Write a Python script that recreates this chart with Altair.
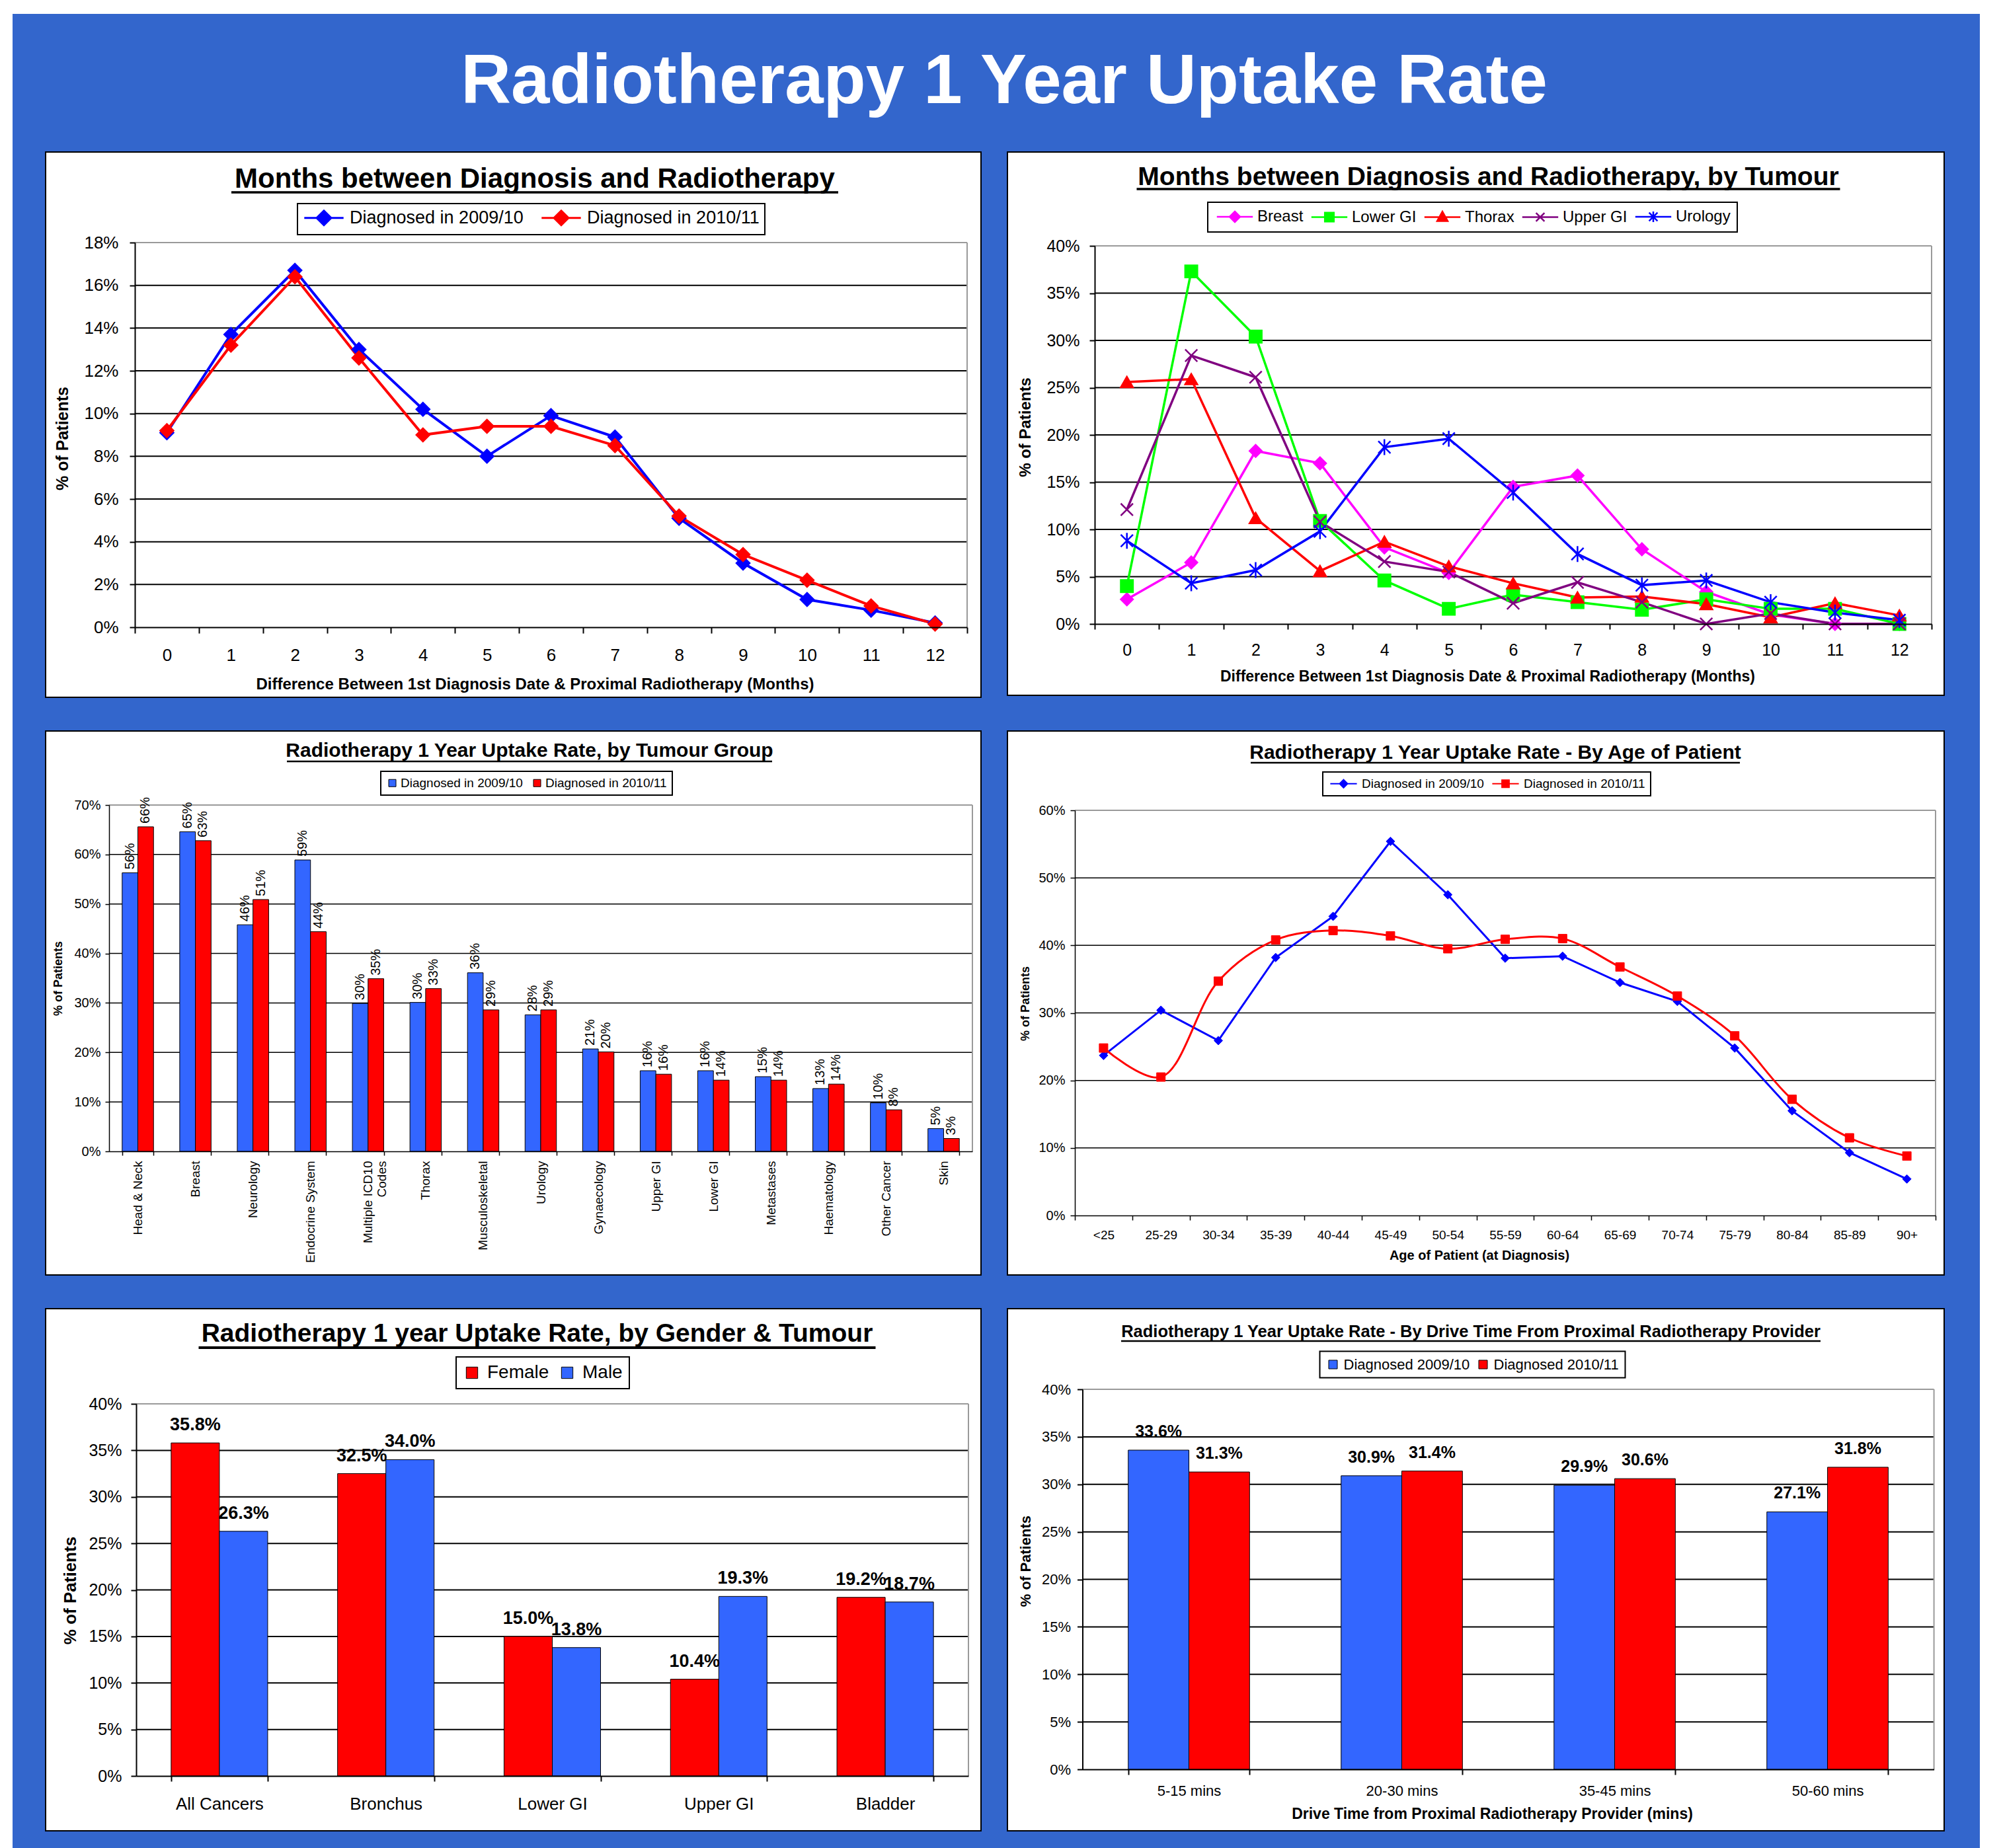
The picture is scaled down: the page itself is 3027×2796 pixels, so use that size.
import altair as alt
import pandas as pd

FONT = "Liberation Sans"
PAGE_BLUE = "#3366CC"
BAR_BLUE = "#3366FF"
RED = "#FF0000"
LINE_BLUE = "#0000FF"

# ---------------- data ----------------
months = list(range(13))
tl_series = ["Diagnosed in 2009/10", "Diagnosed in 2010/11"]
tl_2009 = [9.1, 13.7, 16.7, 13.0, 10.2, 8.0, 9.9, 8.9, 5.1, 3.0, 1.3, 0.8, 0.2]
tl_2010 = [9.2, 13.2, 16.4, 12.6, 9.0, 9.4, 9.4, 8.5, 5.2, 3.4, 2.2, 1.0, 0.15]
tl_yticks = [0, 2, 4, 6, 8, 10, 12, 14, 16, 18]

tr_series = ["Breast", "Lower GI", "Thorax", "Upper GI", "Urology"]
tr_breast = [2.6, 6.5, 18.3, 17.0, 8.1, 5.4, 14.5, 15.7, 7.9, 3.4, 1.0, 0.0, 0.0]
tr_lowergi = [4.0, 37.3, 30.4, 10.9, 4.6, 1.6, 3.1, 2.3, 1.5, 2.6, 1.6, 1.6, 0.0]
tr_thorax = [25.6, 25.9, 11.2, 5.6, 8.7, 6.1, 4.3, 2.8, 2.9, 2.1, 0.7, 2.2, 0.9]
tr_uppergi = [12.1, 28.4, 26.1, 10.8, 6.6, 5.5, 2.2, 4.4, 2.3, 0.0, 1.1, 0.0, 0.0]
tr_urology = [8.8, 4.3, 5.7, 9.8, 18.7, 19.6, 13.9, 7.4, 4.1, 4.6, 2.3, 1.2, 0.4]
tr_yticks = [0, 5, 10, 15, 20, 25, 30, 35, 40]

ml_groups = ["Head & Neck", "Breast", "Neurology", "Endocrine System", "Multiple ICD10 Codes",
             "Thorax", "Musculoskeletal", "Urology", "Gynaecology", "Upper GI", "Lower GI",
             "Metastases", "Haematology", "Other Cancer", "Skin"]
ml_series = ["Diagnosed in 2009/10", "Diagnosed in 2010/11"]
ml_2009 = [56.3, 64.6, 45.8, 58.9, 29.9, 30.1, 36.1, 27.6, 20.7, 16.3, 16.3, 15.1, 12.7, 9.8, 4.6]
ml_2010 = [65.6, 62.8, 50.9, 44.4, 34.9, 32.9, 28.6, 28.6, 20.1, 15.6, 14.4, 14.4, 13.6, 8.4, 2.6]
ml_yticks = [0, 10, 20, 30, 40, 50, 60, 70]

ages = ["<25", "25-29", "30-34", "35-39", "40-44", "45-49", "50-54", "55-59", "60-64",
        "65-69", "70-74", "75-79", "80-84", "85-89", "90+"]
mr_series = ["Diagnosed in 2009/10", "Diagnosed in 2010/11"]
mr_2009 = [23.7, 30.4, 25.9, 38.2, 44.3, 55.4, 47.5, 38.1, 38.4, 34.5, 31.7, 24.8, 15.5, 9.3, 5.4]
mr_2010 = [24.8, 20.5, 34.7, 40.8, 42.2, 41.4, 39.5, 40.9, 41.0, 36.8, 32.5, 26.6, 17.2, 11.5, 8.8]
mr_yticks = [0, 10, 20, 30, 40, 50, 60]

bl_groups = ["All Cancers", "Bronchus", "Lower GI", "Upper GI", "Bladder"]
bl_series = ["Female", "Male"]
bl_female = [35.8, 32.5, 15.0, 10.4, 19.2]
bl_male = [26.3, 34.0, 13.8, 19.3, 18.7]
bl_yticks = [0, 5, 10, 15, 20, 25, 30, 35, 40]

br_groups = ["5-15 mins", "20-30 mins", "35-45 mins", "50-60 mins"]
br_series = ["Diagnosed 2009/10", "Diagnosed 2010/11"]
br_2009 = [33.6, 30.9, 29.9, 27.1]
br_2010 = [31.3, 31.4, 30.6, 31.8]
br_yticks = [0, 5, 10, 15, 20, 25, 30, 35, 40]

ONE = pd.DataFrame({"k": [0]})


def long_df(cats, series, arrays):
    rows = []
    for s, arr in zip(series, arrays):
        for c, v in zip(cats, arr):
            rows.append({"c": c, "s": s, "v": v})
    return pd.DataFrame(rows)


def panel_rect(g):
    return alt.Chart(ONE).mark_rect(fill="white", stroke="black", strokeWidth=2).encode(
        x=alt.value(0), x2=alt.value(g["W"]), y=alt.value(0), y2=alt.value(g["H"]))


def frame(g, yticks, grid_w, yenc_factory):
    inner = pd.DataFrame({"v": yticks[1:-1]})
    top = pd.DataFrame({"v": [yticks[-1]]})
    grid = alt.Chart(inner).mark_rule(color="black", strokeWidth=grid_w).encode(
        y=yenc_factory(), x=alt.value(g["L"]), x2=alt.value(g["R"]))
    topl = alt.Chart(top).mark_rule(color="#9a9a9a", strokeWidth=2).encode(
        y=yenc_factory(), x=alt.value(g["L"]), x2=alt.value(g["R"]))
    right = alt.Chart(ONE).mark_rule(color="#9a9a9a", strokeWidth=2).encode(
        x=alt.value(g["R"]), y=alt.value(g["T"]), y2=alt.value(g["B"]))
    return [grid, topl, right]


def title_layers(text, size, cx, base, hw, uy, uw):
    t = alt.Chart(ONE).mark_text(text=text, font=FONT, fontSize=size, fontWeight="bold",
                                 color="black", align="center", baseline="alphabetic").encode(
        x=alt.value(cx), y=alt.value(base))
    u = alt.Chart(ONE).mark_rule(color="black", strokeWidth=uw).encode(
        x=alt.value(cx - hw), x2=alt.value(cx + hw), y=alt.value(uy))
    return [t, u]


def yaxis(g, ticks, lsize, tick, pad, tsize, tx, ty, w=2):
    return alt.Axis(values=ticks, labelExpr="datum.value + '%'", orient="left", offset=-g["L"],
                    title="% of Patients", titleX=tx - g["L"], titleY=ty, titleAngle=270,
                    titleAlign="center", titleBaseline="middle", titleFont=FONT, titleFontSize=tsize,
                    titleFontWeight="bold", titleColor="black",
                    labelFont=FONT, labelFontSize=lsize, labelColor="black", labelPadding=pad,
                    labelOverlap=False, tickSize=tick, tickColor="black", tickWidth=w,
                    domainColor="black", domainWidth=w, grid=False, zindex=1)


def xaxis(g, lsize, tick, pad, title=None, tsize=20, tcx=0, tbase=0, w=2, angle=0, **kw):
    d = dict(orient="bottom", offset=g["B"] - g["H"], tickBand="extent", labelAngle=angle,
             labelFont=FONT, labelFontSize=lsize, labelColor="black", labelPadding=pad,
             labelOverlap=False, labelLimit=0, labelFlush=False, tickSize=tick, tickColor="black",
             tickWidth=w, domainColor="black", domainWidth=w, grid=False, zindex=1)
    if title:
        d.update(title=title, titleX=tcx, titleY=tbase - g["B"], titleAlign="center",
                 titleBaseline="alphabetic", titleFont=FONT, titleFontSize=tsize,
                 titleFontWeight="bold", titleColor="black", titleAngle=0)
    else:
        d.update(title=None)
    d.update(kw)
    return alt.Axis(**d)


def line_legend(lx, ly, fs, s, so, lo, cp, pad, sw):
    return alt.Legend(orient="none", legendX=lx, legendY=ly, direction="horizontal",
                      columns=5, title=None, labelFont=FONT, labelFontSize=fs,
                      labelColor="black", labelLimit=0, labelOffset=lo, symbolSize=s * s,
                      symbolOffset=so, symbolStrokeWidth=sw, symbolOpacity=1,
                      columnPadding=cp, padding=pad, fillColor="white", strokeColor="black",
                      zindex=1)


def bar_legend(lx, ly, fs, ss, lo, cp, pad):
    return alt.Legend(orient="none", legendX=lx, legendY=ly, direction="horizontal",
                      columns=2, title=None, labelFont=FONT, labelFontSize=fs,
                      labelColor="black", labelLimit=0, labelOffset=lo, symbolType="square",
                      symbolSize=ss, symbolStrokeColor="black", symbolStrokeWidth=1,
                      symbolOpacity=1, columnPadding=cp, padding=pad, fillColor="white",
                      strokeColor="black", zindex=1)


def line_panel(g, cats, series, arrays, colors, shapes, legend_paths, interps, lw, psize, psw,
               yticks, grid_w, yax, xax, legend, titles, extra_front=(), extra_back=()):
    df = long_df(cats, series, arrays)
    xenc = alt.X("c:O", sort=cats,
                 scale=alt.Scale(type="band", domain=cats, range=[g["L"], g["R"]],
                                 paddingInner=0, paddingOuter=0),
                 bandPosition=0.5, axis=xax)

    def yenc():
        return alt.Y("v:Q", scale=alt.Scale(domain=[0, yticks[-1]], range=[g["B"], g["T"]],
                                            nice=False, zero=True), axis=yax)

    layers = list(extra_back) + [panel_rect(g)] + frame(g, yticks, grid_w, yenc)
    for s, col, interp in zip(series, colors, interps):
        layers.append(alt.Chart(df).transform_filter(alt.datum.s == s).mark_line(
            color=col, strokeWidth=lw, interpolate=interp).encode(x=xenc, y=yenc()))
    for s, col, shp in zip(series, colors, shapes):
        layers.append(alt.Chart(df).transform_filter(alt.datum.s == s).mark_point(
            shape=shp, filled=True, fill=col, stroke=col, size=psize, strokeWidth=psw,
            opacity=1).encode(x=xenc, y=yenc()))
    # legend carrier: no rows drawn, entries come from the explicit scale domains
    layers.append(alt.Chart(df).transform_filter("false").mark_point(filled=True, opacity=1).encode(
        color=alt.Color("s:N", scale=alt.Scale(domain=series, range=colors), legend=legend),
        stroke=alt.Stroke("s:N", scale=alt.Scale(domain=series, range=colors), legend=legend),
        shape=alt.Shape("s:N", scale=alt.Scale(domain=series, range=legend_paths), legend=legend)))
    layers += titles + list(extra_front)
    return alt.layer(*layers).properties(width=g["W"], height=g["H"])


def bar_panel(g, cats, series, arrays, colors, pi, yticks, grid_w, yax, xax, legend,
              fmt, text_props, titles):
    df = long_df(cats, series, arrays)
    xenc = alt.X("c:N", sort=cats,
                 scale=alt.Scale(domain=cats, range=[g["L"], g["R"]], paddingInner=pi,
                                 paddingOuter=pi / 2), axis=xax)
    xoff = alt.XOffset("s:N", sort=series,
                       scale=alt.Scale(domain=series, paddingInner=0, paddingOuter=0))

    def yenc():
        return alt.Y("v:Q", scale=alt.Scale(domain=[0, yticks[-1]], range=[g["B"], g["T"]],
                                            nice=False, zero=True), axis=yax)

    bars = alt.Chart(df).mark_bar(stroke="black", strokeWidth=1).encode(
        x=xenc, xOffset=xoff, y=yenc(),
        color=alt.Color("s:N", scale=alt.Scale(domain=series, range=colors), legend=legend))
    labels = alt.Chart(df).transform_calculate(
        lab=f"format(datum.v / 100, '{fmt}')").mark_text(
        font=FONT, color="black", **text_props).encode(x=xenc, xOffset=xoff, y=yenc(), text="lab:N")
    layers = [panel_rect(g)] + frame(g, yticks, grid_w, yenc) + [bars, labels] + titles
    return alt.layer(*layers).properties(width=g["W"], height=g["H"])


# ---------------- panel geometry (relative to each white panel) ----------------
G_TL = dict(W=1415, H=825, L=135, R=1394, T=137, B=719)
G_TR = dict(W=1417, H=822, L=132, R=1398, T=142, B=714)
G_ML = dict(W=1415, H=823, L=96, R=1402, T=112, B=636)
G_MR = dict(W=1417, H=823, L=102, R=1404, T=120, B=733)
G_BL = dict(W=1415, H=790, L=137, R=1396, T=144, B=707)
G_BR = dict(W=1417, H=790, L=113.5, R=1401.6, T=122, B=697)

DIAMOND = "M0,-1L1,0L0,1L-1,0Z"

# ---------------- top left ----------------
tl_paths = [f"M-2.7,0H2.7{DIAMOND}"] * 2
# transparent rect fixing the overall extent, and the blue page behind all panels
bounds_rect = alt.Chart(ONE).mark_rect(fill="white", fillOpacity=0).encode(
    x=alt.value(-61), x2=alt.value(2926), y=alt.value(-222), y2=alt.value(2566))
page_rect = alt.Chart(ONE).mark_rect(fill=PAGE_BLUE).encode(
    x=alt.value(-50), x2=alt.value(2926), y=alt.value(-209), y2=alt.value(2566))
main_title = alt.Chart(ONE).mark_text(
    text="Radiotherapy 1 Year Uptake Rate", font=FONT, fontSize=105, fontWeight="bold",
    color="white", align="center", baseline="alphabetic").encode(x=alt.value(1450), y=alt.value(-74))

tl = line_panel(
    G_TL, months, tl_series, [tl_2009, tl_2010], [LINE_BLUE, RED], ["diamond", "diamond"],
    tl_paths, ["linear", "linear"], 4, 460, 1.5, tl_yticks, 2,
    yaxis(G_TL, tl_yticks, 26, 8, 17, 25, 25, 433),
    xaxis(G_TL, 26, 9, 20, "Difference Between 1st Diagnosis Date & Proximal Radiotherapy (Months)",
          24, 740, 812),
    line_legend(381, 78, 27, 22, 18.5, 25.5, 21, 8, 3),
    title_layers("Months between Diagnosis and Radiotherapy", 42, 740, 54, 459, 61, 3.5),
    extra_front=[main_title], extra_back=[bounds_rect, page_rect])

# ---------------- top right ----------------
tr_colors = ["#FF00FF", "#00FF00", RED, "#800080", LINE_BLUE]
tr_shapes = ["diamond", "square", "triangle-up", "M-1,-1L1,1M-1,1L1,-1",
             "M-1,-1L1,1M-1,1L1,-1M0,-1.3L0,1.3"]
tr_marks = [DIAMOND, "M-0.85,-0.85H0.85V0.85H-0.85Z", "M0,-1.05L1,0.75L-1,0.75Z",
            "M-0.8,-0.8L0.8,0.8M-0.8,0.8L0.8,-0.8",
            "M-0.8,-0.8L0.8,0.8M-0.8,0.8L0.8,-0.8M0,-1L0,1"]
tr_paths = [f"M-3.4,0H3.4{m}" for m in tr_marks]
tr = line_panel(
    G_TR, months, tr_series, [tr_breast, tr_lowergi, tr_thorax, tr_uppergi, tr_urology],
    tr_colors, tr_shapes, tr_paths, ["linear"] * 5, 3.5, 340, 2.5, tr_yticks, 2,
    yaxis(G_TR, tr_yticks, 25, 8, 15, 24, 27, 416),
    xaxis(G_TR, 25, 8, 19, "Difference Between 1st Diagnosis Date & Proximal Radiotherapy (Months)",
          23, 726, 800),
    line_legend(303, 76, 24, 16, 19, 22, 6, 10, 2.5),
    title_layers("Months between Diagnosis and Radiotherapy, by Tumour", 39, 727.5, 50, 532, 56, 3.5))

# ---------------- middle left ----------------
ml = bar_panel(
    G_ML, ml_groups, ml_series, [ml_2009, ml_2010], [BAR_BLUE, RED], 0.455, ml_yticks, 1.5,
    yaxis(G_ML, ml_yticks, 20, 6, 7, 18, 19, 374, w=1.5),
    xaxis(G_ML, 19, 6, 8, w=1.5, angle=270, labelAlign="right", labelBaseline="middle",
          labelExpr="datum.label == 'Multiple ICD10 Codes' ? ['Multiple ICD10', 'Codes'] : datum.label"),
    bar_legend(507, 61, 19, 121, 3, 12, 8),
    ".0%", dict(fontSize=20, angle=270, align="left", baseline="middle", dx=5),
    title_layers("Radiotherapy 1 Year Uptake Rate, by Tumour Group", 30, 732, 39, 367, 46, 2.5))

# ---------------- middle right ----------------
mr_paths = [f"M-3.35,0H3.35{DIAMOND}", "M-3.35,0H3.35M-0.9,-0.9H0.9V0.9H-0.9Z"]
mr = line_panel(
    G_MR, ages, mr_series, [mr_2009, mr_2010], [LINE_BLUE, RED], ["diamond", "square"],
    mr_paths, ["linear", "catmull-rom"], 3, 170, 1, mr_yticks, 1.5,
    yaxis(G_MR, mr_yticks, 20, 7, 8, 18, 27, 412, w=1.5),
    xaxis(G_MR, 19, 7, 13, "Age of Patient (at Diagnosis)", 20, 713.5, 799, w=1.5),
    line_legend(477, 62, 19, 12, 14, 18, 8, 8, 2),
    title_layers("Radiotherapy 1 Year Uptake Rate - By Age of Patient", 30, 738, 42, 370, 48, 2.5))

# ---------------- bottom left ----------------
bl = bar_panel(
    G_BL, bl_groups, bl_series, [bl_female, bl_male], [RED, BAR_BLUE], 0.42, bl_yticks, 2,
    yaxis(G_BL, bl_yticks, 25, 8, 14, 26, 37, 426),
    xaxis(G_BL, 26, 8, 21),
    bar_legend(621, 73, 28, 300, 9, 13, 10),
    ".1%", dict(fontSize=27, fontWeight="bold", align="center", baseline="alphabetic", dy=-19),
    title_layers("Radiotherapy 1 year Uptake Rate, by Gender & Tumour", 39, 743.5, 50, 512, 59, 4))

# ---------------- bottom right ----------------
br = bar_panel(
    G_BR, br_groups, br_series, [br_2009, br_2010], [BAR_BLUE, RED], 0.43, br_yticks, 2,
    yaxis(G_BR, br_yticks, 22, 8, 10, 22, 27, 381.6),
    xaxis(G_BR, 22, 8, 14, "Drive Time from Proximal Radiotherapy Provider (mins)", 23, 733, 771),
    bar_legend(472.5, 64.5, 22, 170, 5, 9, 9),
    ".1%", dict(fontSize=25, fontWeight="bold", align="center", baseline="alphabetic", dy=-20),
    title_layers("Radiotherapy 1 Year Uptake Rate - By Drive Time From Proximal Radiotherapy Provider",
                 25.5, 701, 43, 529, 49, 2.5))


def build(legend_stroke):
    c = alt.concat(tl, tr, ml, mr, bl, br, columns=2, spacing={"row": 51, "column": 40},
                   bounds="flush", align="each", padding=0)
    c = c.resolve_scale(x="independent", y="independent", xOffset="independent",
                        color="independent", shape="independent", stroke="independent")
    c = c.resolve_legend(color="independent", shape="independent", stroke="independent")
    c = c.configure(background="white", font=FONT).configure_view(
        fill="transparent", stroke="transparent", strokeWidth=0)
    if legend_stroke:
        c = c.configure_legend(strokeWidth=2)
    return c


try:
    chart = build(True)
    chart.to_dict()
except Exception:
    chart = build(False)

chart.save("out.html", embed_options={"renderer": "svg", "actions": False})
